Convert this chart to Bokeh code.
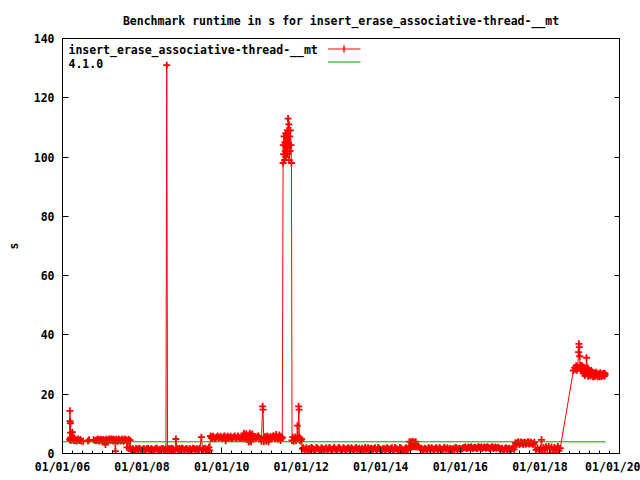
import pandas as pd
from bokeh.plotting import figure
from bokeh.models import (Range1d, FixedTicker, DatetimeTickFormatter, LinearAxis,
                          Label, Arrow)
from bokeh.embed import file_html
from bokeh.resources import INLINE

TITLE = "Benchmark runtime in s for insert_erase_associative-thread-__mt"
SERIES_NAME = "insert_erase_associative-thread-__mt"
BASELINE_NAME = "4.1.0"

# run dates (decimal years) and runtimes in s
run_years = [
    2006.18, 2006.185, 2006.19, 2006.195, 2006.20, 2006.205, 2006.21, 2006.23, 2006.25, 2006.27,
    2006.29, 2006.31, 2006.33, 2006.36, 2006.39, 2006.42, 2006.45, 2006.47,
    2006.52, 2006.64, 2006.67, 2006.78, 2006.82,
    2006.85, 2006.89, 2006.93, 2006.97, 2007.01, 2007.05, 2007.08, 2007.11, 2007.15, 2007.19,
    2007.23, 2007.27, 2007.31, 2007.33, 2007.35, 2007.39, 2007.43, 2007.47, 2007.51, 2007.55,
    2007.59, 2007.62, 2007.64, 2007.66, 2007.68, 2007.70, 2007.72,
    2007.75, 2007.80, 2007.85, 2007.90, 2007.95, 2008.00, 2008.05, 2008.10, 2008.15, 2008.20,
    2008.25, 2008.30, 2008.35, 2008.40, 2008.45, 2008.50, 2008.55, 2008.60, 2008.62, 2008.64,
    2008.68, 2008.72, 2008.76, 2008.80, 2008.85, 2008.88, 2008.92, 2008.96, 2009.00, 2009.05,
    2009.10, 2009.15, 2009.20, 2009.25, 2009.30, 2009.35, 2009.40, 2009.45, 2009.49, 2009.52,
    2009.56, 2009.60, 2009.64, 2009.68, 2009.70,
    2009.72, 2009.76, 2009.80, 2009.85, 2009.90, 2009.95, 2010.00, 2010.05, 2010.10, 2010.13,
    2010.18, 2010.23, 2010.28, 2010.33, 2010.38, 2010.43, 2010.48, 2010.53, 2010.56, 2010.59,
    2010.62, 2010.65, 2010.68, 2010.71, 2010.74, 2010.77, 2010.80, 2010.85, 2010.90, 2010.95,
    2011.00, 2011.03, 2011.04, 2011.06, 2011.09, 2011.12, 2011.15, 2011.18, 2011.21, 2011.25,
    2011.29, 2011.33, 2011.37, 2011.41, 2011.45, 2011.48, 2011.51,
    2011.545, 2011.55, 2011.56, 2011.57, 2011.58, 2011.59, 2011.60, 2011.61, 2011.62, 2011.63,
    2011.64, 2011.65, 2011.66, 2011.67, 2011.68, 2011.69, 2011.70, 2011.71, 2011.72, 2011.73,
    2011.745, 2011.755,
    2011.77, 2011.79, 2011.81, 2011.83, 2011.85, 2011.87, 2011.89, 2011.905, 2011.92, 2011.935,
    2011.945, 2011.955, 2011.97, 2011.99, 2012.01,
    2012.03, 2012.08, 2012.13, 2012.18, 2012.23, 2012.28, 2012.33, 2012.38, 2012.43, 2012.48,
    2012.53, 2012.58, 2012.63, 2012.68, 2012.73, 2012.78, 2012.83, 2012.88, 2012.93, 2012.98,
    2013.03, 2013.08, 2013.13, 2013.18, 2013.23, 2013.28, 2013.33, 2013.38, 2013.43, 2013.48,
    2013.53, 2013.58, 2013.63, 2013.68, 2013.73, 2013.78, 2013.83, 2013.88, 2013.93, 2013.98,
    2014.03, 2014.08, 2014.13, 2014.18, 2014.23, 2014.28, 2014.33, 2014.38, 2014.43, 2014.48,
    2014.53, 2014.57, 2014.60, 2014.64, 2014.68,
    2014.72, 2014.74, 2014.76, 2014.78, 2014.80, 2014.82, 2014.84, 2014.86, 2014.88, 2014.91,
    2014.94, 2014.97,
    2015.00, 2015.05, 2015.10, 2015.15, 2015.20, 2015.25, 2015.30, 2015.35, 2015.40, 2015.45,
    2015.50, 2015.55, 2015.60, 2015.65, 2015.70, 2015.75, 2015.80, 2015.85, 2015.90, 2015.95,
    2016.00, 2016.05, 2016.10, 2016.15, 2016.20, 2016.25, 2016.30, 2016.35, 2016.40, 2016.45,
    2016.50, 2016.55, 2016.60, 2016.65, 2016.70, 2016.75, 2016.80, 2016.85, 2016.90, 2016.95,
    2017.00, 2017.05, 2017.10, 2017.15, 2017.20, 2017.25, 2017.30, 2017.35,
    2017.38, 2017.42, 2017.46, 2017.50, 2017.54, 2017.58, 2017.62, 2017.66, 2017.70, 2017.74,
    2017.78, 2017.82, 2017.86,
    2017.90, 2017.94, 2017.98, 2018.01,
    2018.04, 2018.06, 2018.09, 2018.12, 2018.15, 2018.18, 2018.22, 2018.26, 2018.29, 2018.33,
    2018.36, 2018.39, 2018.42, 2018.45, 2018.48, 2018.51,
    2018.84, 2018.87, 2018.89, 2018.91, 2018.93, 2018.95, 2018.97, 2018.98, 2018.99, 2019.00,
    2019.01, 2019.03, 2019.05, 2019.07, 2019.09, 2019.11, 2019.13, 2019.15, 2019.17, 2019.19,
    2019.21, 2019.23, 2019.26, 2019.29, 2019.32, 2019.35, 2019.38, 2019.41, 2019.44, 2019.47,
    2019.50, 2019.53, 2019.56, 2019.59, 2019.62, 2019.64,
]
runtime_s = [
    4.6, 14.4, 10.9, 5.2, 10.2, 7.0, 4.4, 5.5, 7.2, 4.5,
    5.3, 4.3, 4.8, 4.2, 4.9, 4.4, 4.7, 4.2,
    4.1, 4.2, 4.6, 4.6, 4.4,
    4.4, 4.9, 4.2, 4.7, 4.5, 4.1, 3.0, 4.8, 4.3, 4.6,
    4.9, 4.2, 4.5, 0.8, 4.8, 4.1, 4.6, 4.4, 4.9, 4.3,
    4.7, 2.1, 4.2, 4.8, 1.8, 4.5, 0.9,
    1.4, 1.1, 1.7, 1.2, 1.5, 1.0, 1.6, 1.3, 1.8, 1.1,
    1.5, 1.2, 1.7, 1.0, 1.4, 1.6, 1.1, 1.5, 131.0, 1.3,
    1.7, 1.0, 1.5, 1.2, 4.9, 1.6, 1.1, 1.4, 1.8, 1.2,
    1.5, 1.0, 1.7, 1.3, 1.6, 1.1, 1.4, 1.8, 5.5, 1.2,
    1.6, 1.0, 1.5, 2.1, 1.0,
    5.9, 5.1, 5.6, 5.2, 5.9, 5.4, 5.0, 5.7, 4.3, 5.5,
    5.1, 5.8, 5.3, 5.9, 5.0, 5.6, 5.2, 5.8, 6.8, 5.4,
    6.7, 5.1, 3.9, 6.8, 4.0, 6.6, 5.5, 5.1, 5.8, 5.3,
    4.1, 15.9, 14.8, 4.0, 5.6, 4.2, 5.9, 4.0, 5.4, 5.0,
    5.8, 5.2, 6.4, 4.8, 6.2, 4.4, 5.6,
    98.0, 104.0, 101.0, 107.0, 99.0, 105.0, 102.0, 108.0, 100.0, 106.0,
    103.0, 109.0, 101.0, 113.0, 104.0, 111.0, 99.0, 107.0, 102.0, 109.0,
    104.0, 98.0,
    4.4, 5.5, 4.1, 4.8, 5.6, 4.3, 5.0, 9.4, 5.4, 15.9,
    14.8, 4.5, 5.2, 4.2, 4.8,
    1.6, 1.2, 1.9, 1.4, 1.1, 1.8, 1.3, 2.0, 1.5, 1.2,
    1.7, 1.1, 1.9, 1.4, 1.6, 1.2, 2.1, 1.3, 1.8, 1.5,
    1.1, 1.7, 1.4, 1.9, 1.2, 1.6, 1.3, 2.0, 1.5, 1.1,
    1.8, 1.4, 1.2, 1.9, 1.6, 1.3, 1.7, 1.1, 2.0, 1.5,
    1.2, 1.8, 1.4, 1.6, 1.1, 1.9, 1.3, 1.7, 1.2, 2.0,
    1.5, 0.1, 1.4, 1.9, 1.3,
    4.0, 2.5, 3.9, 2.2, 4.1, 2.4, 3.8, 2.3, 4.0, 2.2,
    2.4, 2.1,
    1.5, 1.1, 1.8, 1.3, 2.0, 1.2, 1.6, 1.4, 1.9, 1.1,
    1.7, 1.3, 2.1, 1.5, 1.2, 1.8, 1.4, 1.1, 1.9, 1.6,
    1.3, 1.7, 2.0, 1.8, 2.2, 1.9, 1.7, 2.1, 1.8, 2.3,
    1.9, 1.7, 2.2, 1.8, 2.0, 1.6, 2.3, 1.9, 1.7, 2.1,
    1.4, 1.8, 1.2, 1.9, 1.5, 1.1, 1.7, 1.3,
    3.6, 3.1, 3.9, 3.3, 3.7, 3.0, 3.8, 3.4, 4.0, 3.2,
    3.6, 3.1, 3.8,
    1.2, 1.8, 1.1, 1.6,
    4.6, 0.1, 2.0, 1.2, 2.3, 1.6, 2.4, 0.1, 2.2, 1.3,
    2.0, 0.1, 1.8, 2.4, 1.0, 1.8,
    28.0, 29.0, 28.3, 29.6, 28.1, 29.2, 34.2, 37.0, 35.9, 32.8,
    28.6, 29.4, 28.2, 29.0, 27.0, 28.4, 26.3, 27.8, 32.3, 28.9,
    26.1, 27.5, 26.4, 28.0, 26.6, 27.2, 26.0, 27.4, 26.3, 26.9,
    25.9, 26.8, 26.2, 27.0, 26.1, 26.6,
]

# further runs inside the dense bands (merged with the above by date)
band_years = [
    2006.87, 2006.91, 2006.95, 2006.99, 2007.03, 2007.065, 2007.095, 2007.13, 2007.17, 2007.21,
    2007.25, 2007.29, 2007.37, 2007.41, 2007.45, 2007.49, 2007.53, 2007.57, 2007.605,
    2007.775, 2007.825, 2007.875, 2007.925, 2007.975, 2008.025, 2008.075, 2008.125, 2008.175,
    2008.225, 2008.275, 2008.325, 2008.375, 2008.425, 2008.475, 2008.525, 2008.575, 2008.66,
    2008.70, 2008.74, 2008.78, 2008.825, 2008.90, 2008.94, 2008.98, 2009.025, 2009.075,
    2009.125, 2009.175, 2009.225, 2009.275, 2009.325, 2009.375, 2009.425, 2009.54, 2009.58,
    2009.62, 2009.66,
    2009.74, 2009.78, 2009.825, 2009.875, 2009.925, 2009.975, 2010.025, 2010.075, 2010.115,
    2010.155, 2010.205, 2010.255, 2010.305, 2010.355, 2010.405, 2010.455, 2010.505, 2010.545,
    2010.575, 2010.605, 2010.635, 2010.665, 2010.695, 2010.725, 2010.755, 2010.785, 2010.825,
    2010.875, 2010.925, 2010.975, 2011.075, 2011.105, 2011.135, 2011.165, 2011.195, 2011.23,
    2011.27, 2011.31, 2011.35, 2011.39, 2011.43, 2011.465, 2011.495, 2011.525,
    2012.055, 2012.105, 2012.155, 2012.205, 2012.255, 2012.305, 2012.355, 2012.405, 2012.455,
    2012.505, 2012.555, 2012.605, 2012.655, 2012.705, 2012.755, 2012.805, 2012.855, 2012.905,
    2012.955, 2013.005, 2013.055, 2013.105, 2013.155, 2013.205, 2013.255, 2013.305, 2013.355,
    2013.405, 2013.455, 2013.505, 2013.555, 2013.605, 2013.655, 2013.705, 2013.755, 2013.805,
    2013.855, 2013.905, 2013.955, 2014.005, 2014.055, 2014.105, 2014.155, 2014.205, 2014.255,
    2014.305, 2014.355, 2014.405, 2014.455, 2014.505, 2014.55, 2014.62, 2014.66,
    2015.025, 2015.075, 2015.125, 2015.175, 2015.225, 2015.275, 2015.325, 2015.375, 2015.425,
    2015.475, 2015.525, 2015.575, 2015.625, 2015.675, 2015.725, 2015.775, 2015.825, 2015.875,
    2015.925, 2015.975, 2016.025, 2016.075, 2016.125, 2016.175, 2016.225, 2016.275, 2016.325,
    2016.375, 2016.425, 2016.475, 2016.525, 2016.575, 2016.625, 2016.675, 2016.725, 2016.775,
    2016.825, 2016.875, 2016.925, 2016.975, 2017.025, 2017.075, 2017.125, 2017.175, 2017.225,
    2017.275, 2017.325,
    2017.40, 2017.44, 2017.48, 2017.52, 2017.56, 2017.60, 2017.64, 2017.68, 2017.72, 2017.76,
    2017.80, 2017.84,
    2019.02, 2019.04, 2019.06, 2019.08, 2019.10, 2019.12, 2019.14, 2019.16, 2019.20, 2019.22,
    2019.245, 2019.275, 2019.305, 2019.335, 2019.365, 2019.395, 2019.425, 2019.455, 2019.485,
    2019.515, 2019.545, 2019.575, 2019.605, 2019.63,
]
band_s = [
    4.6, 4.3, 4.8, 4.2, 4.7, 4.4, 4.6, 4.2, 4.9, 4.4,
    4.6, 4.8, 4.4, 4.9, 4.2, 4.6, 4.1, 4.8, 4.4,
    1.6, 1.0, 1.4, 1.8, 1.2, 1.5, 1.1, 1.7, 1.3,
    1.6, 1.0, 1.4, 1.8, 1.2, 1.1, 1.7, 1.3, 1.1,
    1.5, 1.8, 1.4, 1.0, 1.5, 1.7, 1.0, 1.6, 1.3,
    1.7, 1.2, 1.0, 1.8, 1.4, 1.6, 1.1, 1.4, 1.8,
    1.3, 1.1,
    5.4, 5.8, 5.0, 5.6, 5.2, 5.8, 5.3, 5.9, 5.2,
    5.8, 5.4, 5.0, 5.6, 5.3, 5.9, 5.1, 5.5, 5.0,
    6.1, 5.7, 6.0, 4.6, 6.3, 4.4, 6.1, 5.0, 5.7,
    5.3, 5.9, 5.0, 5.0, 5.7, 4.5, 5.3, 4.6, 5.7,
    5.3, 5.9, 5.0, 5.6, 5.2, 5.8, 5.0, 5.3,
    1.9, 1.4, 1.1, 1.7, 2.0, 1.5, 1.2, 1.8, 1.1,
    1.9, 1.4, 1.6, 1.2, 2.0, 1.3, 1.7, 1.5, 1.1,
    2.0, 1.3, 1.9, 1.2, 1.6, 1.5, 1.9, 1.1, 1.7,
    1.3, 1.8, 1.4, 1.1, 2.0, 1.5, 1.2, 1.8, 1.4,
    1.9, 1.3, 1.7, 1.1, 1.6, 1.2, 1.9, 1.4, 1.7,
    1.1, 2.0, 1.5, 1.3, 1.8, 1.2, 1.6, 1.1,
    1.8, 1.3, 1.6, 1.1, 1.7, 1.9, 1.2, 1.8, 1.4,
    2.0, 1.2, 1.6, 1.4, 1.9, 1.5, 1.1, 1.7, 2.0,
    1.3, 1.8, 1.5, 1.9, 2.2, 1.7, 2.0, 2.3, 1.8,
    2.0, 1.7, 2.1, 2.2, 1.9, 2.0, 2.3, 1.8, 2.1,
    1.7, 2.2, 2.0, 1.8, 1.6, 1.1, 1.7, 1.3, 1.8,
    1.4, 1.9,
    3.4, 3.8, 3.0, 3.9, 3.4, 3.7, 3.1, 3.6, 3.3, 3.9,
    3.4, 3.2,
    29.8, 27.9, 29.6, 28.1, 29.2, 27.4, 28.8, 26.9, 27.3, 28.5,
    27.0, 26.2, 27.6, 25.9, 26.8, 26.5, 27.1, 25.9, 26.6,
    27.2, 26.0, 26.7, 26.4, 27.1,
]

# reference version (4.1.0) runtime
baseline_years = [2006.0, 2019.65]
baseline_s = [3.95, 3.95]

x_tick_years = [2006, 2008, 2010, 2012, 2014, 2016, 2018, 2020]
y_ticks = [0, 20, 40, 60, 80, 100, 120, 140]
x_start_year, x_end_year = 2006, 2020
y_start, y_end = 0, 140


def year_to_ts(y):
    yr = int(y)
    a = pd.Timestamp(year=yr, month=1, day=1)
    b = pd.Timestamp(year=yr + 1, month=1, day=1)
    return a + (b - a) * (y - yr)


def ms(ts):
    return ts.value / 1e6


runs = sorted(zip(run_years + band_years, runtime_s + band_s))
x_run = pd.DatetimeIndex([year_to_ts(y) for y, _ in runs])
y_run = [v for _, v in runs]
x_base = pd.DatetimeIndex([year_to_ts(y) for y in baseline_years])

FONT = "DejaVu Sans Mono"
FS = "11.5px"
RED = "#ff0000"
GREEN = "#00a000"

p = figure(width=640, height=480, x_axis_type="datetime",
           output_backend="svg", toolbar_location=None,
           x_range=Range1d(ms(pd.Timestamp(year=x_start_year, month=1, day=1)),
                           ms(pd.Timestamp(year=x_end_year, month=1, day=1))),
           y_range=Range1d(y_start, y_end))
p.min_border_left = 62
p.min_border_right = 21
p.min_border_top = 38
p.min_border_bottom = 27
p.background_fill_color = "white"
p.border_fill_color = "white"
p.outline_line_color = "black"
p.outline_line_alpha = 1.0
p.xgrid.visible = False
p.ygrid.visible = False

p.title.text = TITLE
p.title.align = "center"
p.title.text_font = FONT
p.title.text_font_style = "bold"
p.title.text_font_size = FS
p.title.text_color = "black"
p.title.standoff = 22

major = [ms(pd.Timestamp(year=y, month=1, day=1)) for y in x_tick_years]
minor = [ms(pd.Timestamp(year=y, month=m, day=1))
         for y in range(x_start_year, x_end_year) for m in (1, 4, 7, 10)]
p.xaxis.ticker = FixedTicker(ticks=major, minor_ticks=minor)
fmt = "%m/%d/%y"
p.xaxis.formatter = DatetimeTickFormatter(
    milliseconds=fmt, seconds=fmt, minsec=fmt, minutes=fmt, hourmin=fmt,
    hours=fmt, days=fmt, months=fmt, years=fmt)
p.yaxis.ticker = FixedTicker(ticks=y_ticks)

for ax in (p.xaxis[0], p.yaxis[0]):
    ax.major_tick_in = 6
    ax.major_tick_out = 0
    ax.minor_tick_in = 3
    ax.minor_tick_out = 0
    ax.axis_line_color = "black"
    ax.major_tick_line_color = "black"
    ax.minor_tick_line_color = "black"
    ax.major_label_text_font = FONT
    ax.major_label_text_font_style = "bold"
    ax.major_label_text_font_size = FS
    ax.major_label_text_color = "black"

p.xaxis.major_label_standoff = 6
p.yaxis.major_label_standoff = 8
p.yaxis.axis_label = "s"
p.yaxis.axis_label_text_font = FONT
p.yaxis.axis_label_text_font_style = "bold"
p.yaxis.axis_label_text_font_size = FS
p.yaxis.axis_label_text_color = "black"
p.yaxis.axis_label_standoff = 10

# mirrored y ticks on the right border (no labels)
right = LinearAxis(ticker=FixedTicker(ticks=[], minor_ticks=y_ticks))
right.major_tick_in = 0
right.major_tick_out = 0
right.minor_tick_in = 5
right.minor_tick_out = 0
right.major_label_standoff = 0
right.minor_tick_line_color = "black"
right.axis_line_color = "black"
p.add_layout(right, "right")

p.line(x_run, y_run, line_color=RED, line_width=1)
p.scatter(x_run, y_run, marker="cross", size=7, line_color=RED, line_width=1.8)
p.line(x_base, baseline_s, line_color=GREEN, line_width=1)

# key (gnuplot style: text then sample)
p.add_layout(Label(x=6, y=404, x_units="screen", y_units="screen", text=SERIES_NAME,
                   text_font=FONT, text_font_style="bold", text_font_size=FS,
                   text_baseline="middle", text_color="black"))
p.add_layout(Label(x=6, y=390.5, x_units="screen", y_units="screen", text=BASELINE_NAME,
                   text_font=FONT, text_font_style="bold", text_font_size=FS,
                   text_baseline="middle", text_color="black"))
p.add_layout(Arrow(end=None, x_start=265.5, y_start=404.5, x_end=298, y_end=404.5,
                   start_units="screen", end_units="screen", line_color=RED, line_width=1))
p.add_layout(Arrow(end=None, x_start=281.5, y_start=401, x_end=281.5, y_end=408,
                   start_units="screen", end_units="screen", line_color=RED, line_width=1.5))
p.add_layout(Arrow(end=None, x_start=265.5, y_start=391.5, x_end=298, y_end=391.5,
                   start_units="screen", end_units="screen", line_color=GREEN, line_width=1))

open("out.html", "w").write(file_html(p, INLINE))
